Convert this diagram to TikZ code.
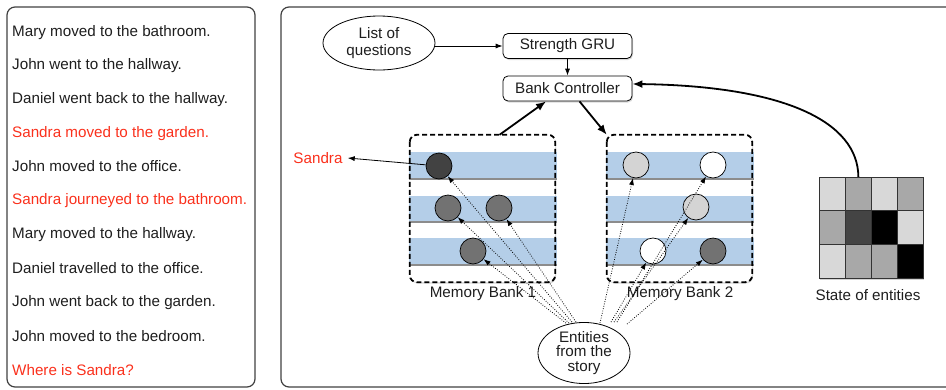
\documentclass[tikz,border=0pt]{standalone}
\usepackage{fontspec}
\setmainfont{Liberation Sans}
\usetikzlibrary{arrows.meta,shapes.geometric,calc,shadows}
\definecolor{txt}{RGB}{30,30,30}
\definecolor{redt}{RGB}{250,48,28}
\definecolor{stripe}{RGB}{180,206,232}
\definecolor{cdark}{RGB}{66,66,66}
\definecolor{cgray}{RGB}{114,114,114}
\definecolor{clight}{RGB}{212,212,212}
\definecolor{gl}{RGB}{216,216,216}
\definecolor{gm}{RGB}{168,168,168}
\definecolor{gd}{RGB}{68,68,68}
\begin{document}
\begin{tikzpicture}[x=1pt,y=-1pt,
  font=\fontsize{15.2}{17}\selectfont, text=txt,
  panel/.style={draw=black!75, line width=1.2pt, rounded corners=8pt},
  storyline/.style={anchor=west, inner sep=0pt},
  redtext/.style={text=redt},
  box/.style={draw=black, line width=0.8pt, rounded corners=5pt, fill=white,
    minimum width=129pt, minimum height=25pt, inner sep=0pt,
    drop shadow={shadow xshift=1pt, shadow yshift=-1.5pt, opacity=0.3}},
  oval/.style={ellipse, draw=black, line width=0.8pt, fill=white, inner sep=0pt, align=center},
  thinarrow/.style={draw=black, line width=0.8pt, -{Latex[length=7pt,width=5pt]}},
  thickarrow/.style={draw=black, line width=1.8pt, -{Latex[length=10pt,width=8pt]}},
  dotarrow/.style={draw=black, line width=0.8pt, dash pattern=on 0.8pt off 1.6pt, -{Latex[length=7pt,width=5pt]}},
  bankbg/.style={fill=white, minimum width=145pt, minimum height=147pt, inner sep=0pt,
    rounded corners=7pt, drop shadow={shadow xshift=1pt, shadow yshift=-1.5pt, opacity=0.3}},
  bankborder/.style={draw=black, line width=1.8pt, dash pattern=on 5pt off 3pt, rounded corners=7pt},
  stripeshade/.style={draw=black!45, line width=1.4pt},
  ent/.style={circle, draw=black, line width=0.7pt, minimum size=26pt, inner sep=0pt},
  cell/.style={draw=black!80, line width=0.8pt},
  label/.style={inner sep=0pt}
]
\useasboundingbox (0,0) rectangle (946,389);
\clip (0,0) rectangle (946,389);

% ---------- left panel: the story ----------
\draw[panel] (7,7) rectangle (255,387);
\node[storyline] (t1) at (12,32.5) {Mary moved to the bathroom.};
\node[storyline] (t2) at (12,66) {John went to the hallway.};
\node[storyline] (t3) at (12,100) {Daniel went back to the hallway.};
\node[storyline,redtext] (t4) at (12,134) {Sandra moved to the garden.};
\node[storyline] (t5) at (12,166.5) {John moved to the office.};
\node[storyline,redtext] (t6) at (12,201) {Sandra journeyed to the bathroom.};
\node[storyline] (t7) at (12,235) {Mary moved to the hallway.};
\node[storyline] (t8) at (12,268.5) {Daniel travelled to the office.};
\node[storyline] (t9) at (12,302.5) {John went back to the garden.};
\node[storyline] (t10) at (12,336) {John moved to the bedroom.};
\node[storyline,redtext] (t11) at (12,370) {Where is Sandra?};

% ---------- right panel ----------
\draw[panel] (281,7) rectangle (960,387);

\node[oval, minimum width=112pt, minimum height=54pt, font=\fontsize{15.2}{17}\selectfont] (q) at (379,43) {List of\\questions};
\node[box] (sg) at (567.5,46) {Strength GRU};
\node[box] (bc) at (567.5,88.5) {Bank Controller};

\draw[thinarrow] (q.east |- sg.west) -- (sg.west);
\draw[thinarrow] (sg) -- (bc);

% memory bank 1
\node[bankbg] (b1) at (482.5,208.5) {};
\foreach \ya/\yb in {152/179,196/222,238/265}{
  \fill[stripe] (409,\ya) rectangle (557,\yb);
  \draw[stripeshade] (409,\yb) -- (557,\yb);
}
\draw[bankborder] (b1.north west) rectangle (b1.south east);

% memory bank 2
\node[bankbg] (b2) at (679.5,208.5) {};
\foreach \ya/\yb in {152/179,196/222,238/265}{
  \fill[stripe] (606,\ya) rectangle (754,\yb);
  \draw[stripeshade] (606,\yb) -- (754,\yb);
}
\draw[bankborder] (b2.north west) rectangle (b2.south east);

% entities in bank 1
\node[ent, fill=cdark] (d1) at (439,166) {};
\node[ent, fill=cgray] (g1) at (448,208) {};
\node[ent, fill=cgray] (g2) at (499,208) {};
\node[ent, fill=cgray] (g3) at (473,251) {};
% entities in bank 2
\node[ent, fill=clight] (l1) at (636,165) {};
\node[ent, fill=white] (w1) at (713,165) {};
\node[ent, fill=clight] (l2) at (696,207) {};
\node[ent, fill=white] (w2) at (653,251) {};
\node[ent, fill=cgray] (g4) at (713,251) {};

% bank arrows
\draw[thickarrow] (b1.77) -- (bc.211);
\draw[thickarrow] (bc.-47) -- (b2.north west);

% Sandra output
\node[label, text=redt] (sandra) at (318,158) {Sandra};
\draw[thinarrow] (d1) -- ([xshift=5pt]sandra.east);

% labels
\node[label] (lb1) at (483,294) {Memory Bank 1};
\node[label] (lb2) at (680,294) {Memory Bank 2};

% state of entities grid
\node[fill=white, minimum width=104pt, minimum height=101pt, inner sep=0pt,
  drop shadow={shadow xshift=1pt, shadow yshift=-2pt, opacity=0.35}] (grid) at (871,227.5) {};
\foreach \c/\col in {0/gl,1/gm,2/gl,3/gm}{
  \filldraw[cell, fill=\col] (819+26*\c,177) rectangle (845+26*\c,210.67);}
\foreach \c/\col in {0/gm,1/gd,2/black,3/gl}{
  \filldraw[cell, fill=\col] (819+26*\c,210.67) rectangle (845+26*\c,244.33);}
\foreach \c/\col in {0/gl,1/gm,2/gm,3/black}{
  \filldraw[cell, fill=\col] (819+26*\c,244.33) rectangle (845+26*\c,278);}
\node[label] (lbs) at (868,295) {State of entities};

\draw[thickarrow] (grid.104) .. controls (858,122) and (785,86) .. (bc.4);

% entities from the story
\node[oval, minimum width=92pt, minimum height=60pt, font=\fontsize{15.2}{14.5}\selectfont] (ent) at (584,353) {Entities\\from the\\story};

\coordinate (s3) at ($(ent.north)+(-18,1)$);
\coordinate (s1) at ($(ent.north)+(-15,1)$);
\coordinate (s0) at ($(ent.north)+(-12,0)$);
\coordinate (s2) at ($(ent.north)+(-8,0)$);
\coordinate (r1) at ($(ent.north)+(16,1)$);
\coordinate (r4) at ($(ent.north)+(27,0)$);
\coordinate (r3) at ($(ent.north)+(30,0)$);
\coordinate (r2) at ($(ent.north)+(33,0)$);
\coordinate (r5) at ($(ent.north)+(43,2)$);

\draw[dotarrow] (s0) -- (d1);
\draw[dotarrow] (s1) -- (g1);
\draw[dotarrow] (s2) -- (g2);
\draw[dotarrow] (s3) -- (g3);
\draw[dotarrow] (r1) -- (l1);
\draw[dotarrow] (r2) -- (w1);
\draw[dotarrow] (r3) -- (l2);
\draw[dotarrow] (r4) -- (w2);
\draw[dotarrow] (r5) -- (g4);
\end{tikzpicture}
\end{document}
